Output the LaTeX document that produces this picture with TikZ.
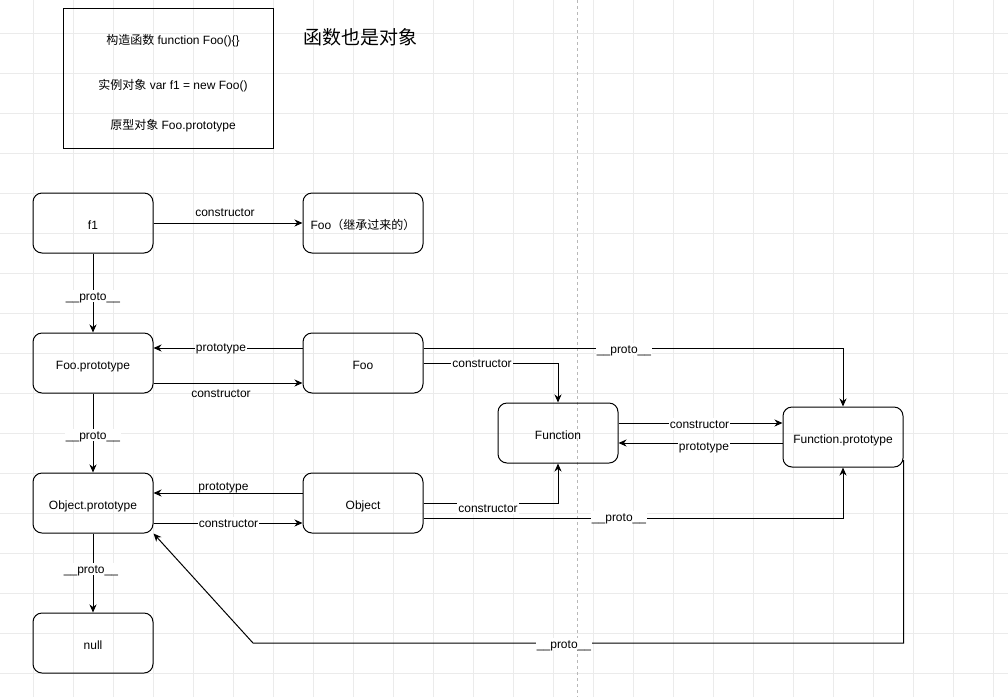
\documentclass[tikz,border=0pt]{standalone}
\usepackage{fontspec}
\setmainfont{Liberation Sans}
\newfontfamily\cjk{Noto Sans CJK SC}
\usetikzlibrary{arrows.meta}
\definecolor{gridc}{HTML}{EBEBEB}
\definecolor{dashc}{HTML}{B8B8B8}
\tikzset{
  obj/.style={draw=black, line width=1pt, rounded corners=9pt, minimum width=120pt, minimum height=60pt, inner sep=0pt, font=\fontsize{12}{14}\selectfont, text height=12pt, text depth=0pt},
  arr/.style={draw=black, line width=1pt, -{Stealth[length=8pt,width=7pt,inset=2.5pt]}},
  lbl/.style={font=\fontsize{12}{14}\selectfont, inner sep=1pt, text height=8pt, text depth=0pt},
  lblw/.style={lbl, fill=white, inner ysep=2pt},
}
\begin{document}
\begin{tikzpicture}[x=1pt,y=-1pt]
\useasboundingbox (0,0) rectangle (1008,697);
\fill[white] (0,0) rectangle (1008,697);
% grid
\foreach \gx in {33,73,...,993} \draw[gridc, line width=0.6pt] (\gx,0) -- (\gx,697);
\foreach \gy in {33,73,...,673} \draw[gridc, line width=0.6pt] (0,\gy) -- (1008,\gy);
% dashed divider
\draw[dashc, line width=0.8pt, dash pattern=on 3pt off 3pt] (577,0) -- (577,697);

% legend box
\node[draw=black, line width=1pt, minimum width=210pt, minimum height=140pt, inner sep=0pt] (legend) at (168,78) {};
\node[lbl] (l1) at (173,40) {{\cjk 构造函数} function Foo()\{\}};
\node[lbl] (l2) at (173,85) {{\cjk 实例对象} var f1 = new Foo()};
\node[lbl] (l3) at (173,125) {{\cjk 原型对象} Foo.prototype};
\node[font=\fontsize{19}{22}\selectfont\cjk, inner sep=0pt] (title) at (360,37) {函数也是对象};

% objects
\node[obj] (f1) at (93,223) {f1};
\node[obj] (fooinh) at (363,223) {Foo{\cjk（继承过来的）}};
\node[obj] (fooproto) at (93,363) {Foo.prototype};
\node[obj] (foo) at (363,363) {Foo};
\node[obj] (objproto) at (93,503) {Object.prototype};
\node[obj] (object) at (363,503) {Object};
\node[obj] (null) at (93,643) {null};
\node[obj] (function) at (558,433) {Function};
\node[obj] (funproto) at (843,437) {Function.prototype};
\coordinate (bend) at (253,643);

% connectors
\draw[arr] (f1) -- (fooinh);
\draw[arr] (f1) -- (fooproto);
\draw[arr] (foo.west |- 0,348) -- (fooproto.east |- 0,348);
\draw[arr] (fooproto.east |- 0,383) -- (foo.west |- 0,383);
\draw[arr] (fooproto) -- (objproto);
\draw[arr] (object.west |- 0,493) -- (objproto.east |- 0,493);
\draw[arr] (objproto.east |- 0,523) -- (object.west |- 0,523);
\draw[arr] (objproto) -- (null);
\draw[arr] (foo.east |- 0,348) -| (funproto.north);
\draw[arr] (foo.east |- 0,363) -| (function.north);
\draw[arr] (function.east |- 0,423) -- (funproto.west |- 0,423);
\draw[arr] (funproto.west |- 0,443) -- (function.east |- 0,443);
\draw[arr] (object.east |- 0,503) -| (function.south);
\draw[arr] (object.east |- 0,518) -| (funproto.south);
\draw[arr] (funproto.east |- 0,460) |- (bend) -- (objproto.south east);

% labels
\node[lbl] at (225,212) {constructor};
\node[lblw] at (93,296) {\_\_proto\_\_};
\node[lblw] at (221,347) {prototype};
\node[lbl] at (221,393) {constructor};
\node[lblw] at (93,435) {\_\_proto\_\_};
\node[lbl] at (223.5,486) {prototype};
\node[lblw] at (228.5,523) {constructor};
\node[lblw] at (91,569) {\_\_proto\_\_};
\node[lblw] at (624,349) {\_\_proto\_\_};
\node[lblw] at (482,363) {constructor};
\node[lblw] at (699.5,424) {constructor};
\node[lblw] at (704,446.5) {prototype};
\node[lblw] at (488,508) {constructor};
\node[lblw] at (619,517) {\_\_proto\_\_};
\node[lblw] at (564,644) {\_\_proto\_\_};
\end{tikzpicture}
\end{document}
